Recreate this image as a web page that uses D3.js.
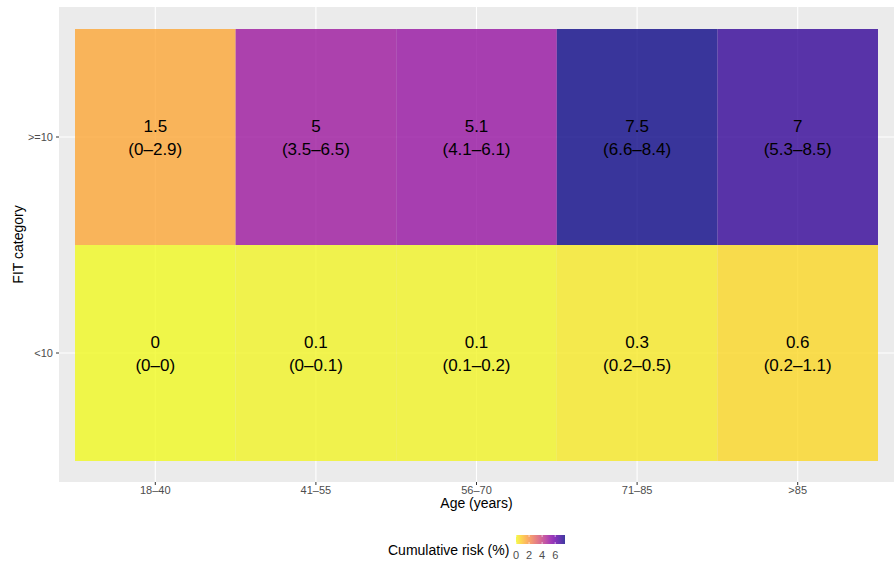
<!DOCTYPE html>
<html>
<head>
<meta charset="utf-8">
<script src="https://cdn.jsdelivr.net/npm/d3@7"></script>
<style>
  body { margin: 0; background: #ffffff; }
  text { font-family: "Liberation Sans", Arial, sans-serif; }
</style>
</head>
<body>
<div id="chart"></div>
<script>
// chart data
var ageGroups = ["18\u201340", "41\u201355", "56\u201370", "71\u201385", ">85"];
var fitCategories = [">=10", "<10"];
var riskHigh = [1.5, 5, 5.1, 7.5, 7];
var lowHigh = [0, 3.5, 4.1, 6.6, 5.3];
var uppHigh = [2.9, 6.5, 6.1, 8.4, 8.5];
var riskLow = [0, 0.1, 0.1, 0.3, 0.6];
var lowLow = [0, 0, 0.1, 0.2, 0.2];
var uppLow = [0, 0.1, 0.2, 0.5, 1.1];
var legendTicks = [0, 2, 4, 6];

var cells = [];
ageGroups.forEach(function(a, i) {
    cells.push({age: a, fit: ">=10", risk: riskHigh[i], lo: lowHigh[i], hi: uppHigh[i]});
    cells.push({age: a, fit: "<10", risk: riskLow[i], lo: lowLow[i], hi: uppLow[i]});
});

var W = 896, H = 562;
var panel = {left: 59, right: 894, top: 7, bottom: 482};

var svg = d3.select("#chart").append("svg")
    .attr("width", W)
    .attr("height", H);

var x = d3.scaleBand()
    .domain(ageGroups)
    .range([75, 878]);
var y = d3.scaleBand()
    .domain(fitCategories)
    .range([29, 461]);

var color = d3.scaleSequential(function(t) { return d3.interpolatePlasma(1 - t); })
    .domain([0, 7.5]);

// panel background
svg.append("rect")
    .attr("x", panel.left)
    .attr("y", panel.top)
    .attr("width", panel.right - panel.left)
    .attr("height", panel.bottom - panel.top)
    .attr("fill", "#ebebeb");

// grid lines
svg.selectAll(".vgrid")
    .data(ageGroups)
    .enter().append("line")
    .attr("x1", d => x(d) + x.bandwidth() / 2)
    .attr("x2", d => x(d) + x.bandwidth() / 2)
    .attr("y1", panel.top)
    .attr("y2", panel.bottom)
    .attr("stroke", "#ffffff")
    .attr("stroke-width", 1.1);
svg.selectAll(".hgrid")
    .data(fitCategories)
    .enter().append("line")
    .attr("x1", panel.left)
    .attr("x2", panel.right)
    .attr("y1", d => y(d) + y.bandwidth() / 2)
    .attr("y2", d => y(d) + y.bandwidth() / 2)
    .attr("stroke", "#ffffff")
    .attr("stroke-width", 1.1);

// tiles
svg.selectAll(".tile")
    .data(cells)
    .enter().append("rect")
    .attr("class", "tile")
    .attr("x", d => x(d.age))
    .attr("y", d => y(d.fit))
    .attr("width", x.bandwidth())
    .attr("height", y.bandwidth())
    .attr("fill", d => color(d.risk))
    .attr("fill-opacity", 0.8);

// labels in tiles
var lab = svg.selectAll(".lab")
    .data(cells)
    .enter().append("text")
    .attr("text-anchor", "middle")
    .attr("font-size", "17px")
    .attr("fill", "#000000");
lab.append("tspan")
    .attr("x", d => x(d.age) + x.bandwidth() / 2)
    .attr("y", d => y(d.fit) + y.bandwidth() / 2 - 5)
    .text(d => d.risk);
lab.append("tspan")
    .attr("x", d => x(d.age) + x.bandwidth() / 2)
    .attr("y", d => y(d.fit) + y.bandwidth() / 2 + 18)
    .text(d => "(" + d.lo + "\u2013" + d.hi + ")");

// x axis
var xAxis = svg.append("g")
    .attr("transform", "translate(0," + panel.bottom + ")")
    .call(d3.axisBottom(x).tickSize(3).tickPadding(2));
xAxis.select(".domain").remove();
xAxis.selectAll(".tick line").attr("stroke", "#333333");
xAxis.selectAll(".tick text")
    .attr("fill", "#4d4d4d")
    .attr("dy", "0.62em")
    .style("font-size", "11px")
    .style("font-family", "Liberation Sans, Arial, sans-serif");

// y axis
var yAxis = svg.append("g")
    .attr("transform", "translate(" + panel.left + ",0)")
    .call(d3.axisLeft(y).tickSize(3).tickPadding(3));
yAxis.select(".domain").remove();
yAxis.selectAll(".tick line").attr("stroke", "#333333");
yAxis.selectAll(".tick text")
    .attr("fill", "#4d4d4d")
    .style("font-size", "11px")
    .style("font-family", "Liberation Sans, Arial, sans-serif");

// axis titles
svg.append("text")
    .attr("x", (panel.left + panel.right) / 2)
    .attr("y", 508)
    .attr("text-anchor", "middle")
    .attr("font-size", "14px")
    .text("Age (years)");
svg.append("text")
    .attr("transform", "translate(23," + ((panel.top + panel.bottom) / 2) + ") rotate(-90)")
    .attr("text-anchor", "middle")
    .attr("font-size", "14px")
    .text("FIT category");

// legend
var legX = d3.scaleLinear()
    .domain([0, 7.5])
    .range([516, 565]);
var defs = svg.append("defs");
var grad = defs.append("linearGradient")
    .attr("id", "riskGrad");
d3.range(0, 1.0001, 0.1).forEach(function(t) {
    grad.append("stop")
        .attr("offset", (t * 100) + "%")
        .attr("stop-color", color(t * 7.5))
        .attr("stop-opacity", 0.8);
});
svg.append("rect")
    .attr("x", legX(0))
    .attr("y", 535)
    .attr("width", legX(7.5) - legX(0))
    .attr("height", 9)
    .attr("fill", "url(#riskGrad)");
svg.selectAll(".legtick")
    .data(legendTicks)
    .enter().append("line")
    .attr("x1", d => legX(d))
    .attr("x2", d => legX(d))
    .attr("y1", 535)
    .attr("y2", 537)
    .attr("stroke", "#ffffff")
    .attr("stroke-opacity", 0.6);
svg.selectAll(".legtick2")
    .data(legendTicks)
    .enter().append("line")
    .attr("x1", d => legX(d))
    .attr("x2", d => legX(d))
    .attr("y1", 542)
    .attr("y2", 544)
    .attr("stroke", "#ffffff")
    .attr("stroke-opacity", 0.6);
svg.selectAll(".leglab")
    .data(legendTicks)
    .enter().append("text")
    .attr("x", d => legX(d))
    .attr("y", 559)
    .attr("text-anchor", "middle")
    .attr("font-size", "11px")
    .attr("fill", "#4d4d4d")
    .text(d => d);
svg.append("text")
    .attr("x", 388)
    .attr("y", 555)
    .attr("font-size", "14px")
    .text("Cumulative risk (%)");
</script>
</body>
</html>
